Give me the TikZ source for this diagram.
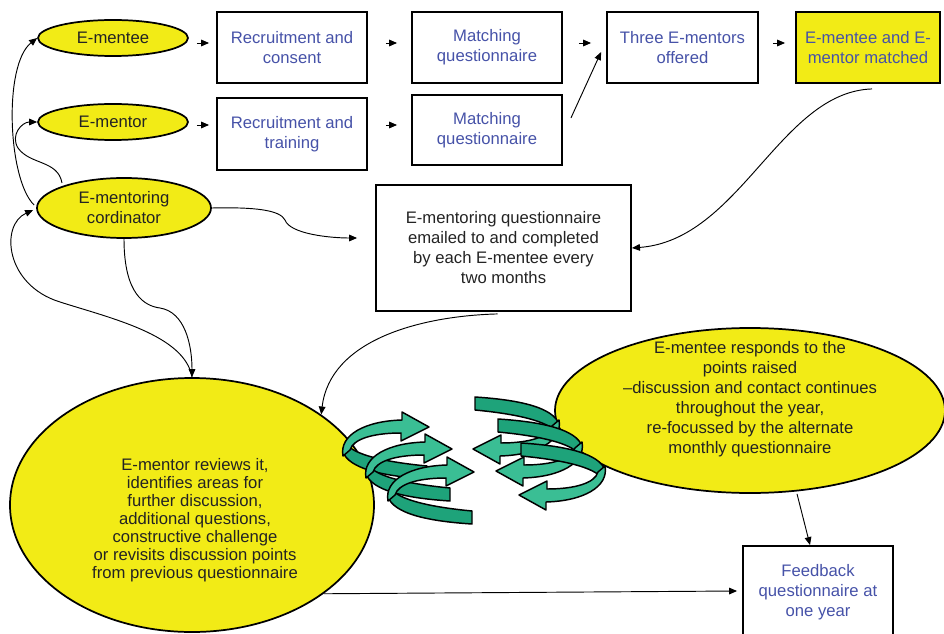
\documentclass[tikz,border=0pt]{standalone}
\usepackage{fontspec}
\setmainfont{Liberation Sans}
\usetikzlibrary{shapes.geometric,arrows.meta}
\definecolor{ylw}{RGB}{242,235,22}
\definecolor{txtblue}{RGB}{70,82,168}
\definecolor{txtdark}{RGB}{35,35,35}
\definecolor{grlight}{RGB}{58,190,148}
\definecolor{grdark}{RGB}{30,163,122}
\tikzset{
  yell/.style={ellipse, draw=black, line width=1.3pt, fill=ylw, text=txtdark, align=center, inner sep=0pt},
  boxnode/.style={rectangle, draw=black, line width=1.4pt, text=txtblue, align=center, inner sep=0pt},
  con/.style={-{Triangle[length=6pt,width=5pt]}, line width=0.7pt},
  ribbon/.style={draw=black, line width=1.1pt, line join=round},
  txt/.style={align=center, text=txtdark},
}
\newcommand\greenspiral{%
  \filldraw[ribbon, fill=grdark] (-83,17) .. controls (-74,28) and (-44,35) .. (-2,39) -- (-2,52) .. controls (-49,49) and (-80,41) .. (-86,25) -- cycle;
  \filldraw[ribbon, fill=grlight] (-86,29) .. controls (-90,8) and (-64,-6) .. (-27,-7) -- (-27,-15) -- (0,0) -- (-28,14) -- (-28,6) .. controls (-56,6) and (-76,12) .. (-79,23) -- cycle;
}
\begin{document}
\begin{tikzpicture}[x=0.75pt, y=-0.75pt, font=\fontsize{12.5}{15}\selectfont]
\useasboundingbox (0,0) rectangle (944,634);
% ellipses top-left
\node[yell, minimum width=112.5pt, minimum height=27pt] (mentee) at (113,38) {E-mentee};
\node[yell, minimum width=112.5pt, minimum height=27pt] (mentor) at (113,122) {E-mentor};
\node[yell, minimum width=130.5pt, minimum height=45pt] (coord) at (124,208) {E-mentoring\\cordinator};
% boxes
\node[boxnode, minimum width=112.5pt, minimum height=53.25pt] (rc) at (292,47.5) {Recruitment and\\consent};
\node[boxnode, minimum width=112.5pt, minimum height=54pt] (rt) at (292,134) {Recruitment and\\training};
\node[boxnode, minimum width=112.5pt, minimum height=53.25pt] (mq1) at (487,47.5) {Matching\\questionnaire};
\node[boxnode, minimum width=112.5pt, minimum height=52.5pt] (mq2) at (487,130) {Matching\\questionnaire};
\node[boxnode, minimum width=113.25pt, minimum height=53.25pt] (three) at (682.5,47.5) {Three E-mentors\\offered};
\node[boxnode, fill=ylw, minimum width=108pt, minimum height=53.25pt] (matched) at (868,47.5) {E-mentee and E-\\mentor matched};
\node[boxnode, text=txtdark, minimum width=191.25pt, minimum height=94.5pt] (emq) at (503.5,248) {E-mentoring questionnaire\\emailed to and completed\\by each E-mentee every\\two months};
\node[boxnode, minimum width=112.5pt, minimum height=69pt] (fb) at (818,592) {Feedback\\questionnaire at\\one year};
% big ellipses
\node[yell, minimum width=273pt, minimum height=190.5pt] (bigE) at (192,505) {};
\node[txt, font=\fontsize{12.5}{13.5}\selectfont] (bigT) at (195,520) {E-mentor reviews it,\\identifies areas for\\further discussion,\\additional questions,\\constructive challenge\\or revisits discussion points\\from previous questionnaire};
\node[yell, minimum width=292.5pt, minimum height=123.75pt] (resp) at (750,410.5) {};
\node[txt] (respT) at (750,399) {E-mentee responds to the\\points raised\\–discussion and contact continues\\throughout the year,\\re-focussed by the alternate\\monthly questionnaire};
% straight connectors
\draw[con] ([shift={(8,5)}]mentee.east) -- ([shift={(-7,-4.5)}]rc.west);
\draw[con] ([shift={(18,-4.5)}]rc.east) -- ([shift={(-14,-4.5)}]mq1.west);
\draw[con] ([shift={(16,-4.5)}]mq1.east) -- ([shift={(-15,-4.5)}]three.west);
\draw[con] ([shift={(14,-4.5)}]three.east) -- ([shift={(-10,-4.5)}]matched.west);
\draw[con] ([shift={(8,3)}]mentor.east) -- ([shift={(-7,-9)}]rt.west);
\draw[con] ([shift={(18,-9)}]rt.east) -- ([shift={(-14,-5)}]mq2.west);
\draw[con] ([shift={(8,-12)}]mq2.east) -- ([shift={(-5,4.5)}]three.west);
% curved connectors
\draw[con] ([shift={(4,5)}]matched.south) .. controls (780,92) and (740,240) .. (emq.east);
\draw[con] (coord.east) .. controls (255,207) and (280,210) .. (285,220) .. controls (290,234) and (330,238) .. ([shift={(-18,-10)}]emq.west);
\draw[con] (coord.south) .. controls (124,295) and (145,306) .. (160,308) .. controls (185,312) and (192,345) .. (bigE.north);
\draw[con] (bigE.north) .. controls (185,335) and (110,318) .. (60,302) .. controls (5,285) and (0,225) .. ([shift={(-3,2)}]coord.west);
\draw[con] ([shift={(-2,-3)}]coord.west) .. controls (8,180) and (3,65) .. (mentee.west);
\draw[con] ([shift={(-62,-25)}]coord.center) .. controls (58,160) and (30,165) .. (18,148) .. controls (10,135) and (22,122) .. (mentor.west);
\draw[con] ([shift={(-6,2)}]emq.south) .. controls (420,316) and (330,340) .. (bigE.35);
\draw[con] ([shift={(47,0)}]resp.south) -- ([shift={(-8,0)}]fb.north);
\draw[con] (bigE.-34) -- ([shift={(-5,-1)}]fb.west);
% green spirals
\begin{scope}[shift={(429,427)}]\greenspiral\end{scope}
\begin{scope}[shift={(452,449)}]\greenspiral\end{scope}
\begin{scope}[shift={(474,472)}]\greenspiral\end{scope}
\begin{scope}[shift={(473,449)}, rotate=180]\greenspiral\end{scope}
\begin{scope}[shift={(496,471)}, rotate=180]\greenspiral\end{scope}
\begin{scope}[shift={(519,495)}, rotate=180]\greenspiral\end{scope}
\end{tikzpicture}
\end{document}
